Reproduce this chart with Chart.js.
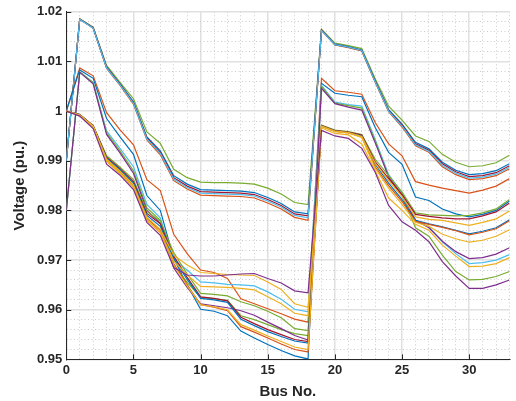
<!DOCTYPE html>
<html>
<head>
<meta charset="utf-8">
<script src="https://cdn.jsdelivr.net/npm/chart.js@4.4.0/dist/chart.umd.min.js"></script>
<style>
  html, body { margin: 0; padding: 0; background: #fff; }
  canvas { display: block; }
</style>
</head>
<body>
<canvas id="chart" width="516" height="401"></canvas>
<script>
// bus index along the x axis
const busNo = [0, 1, 2, 3, 4, 5, 6, 7, 8, 9, 10, 11, 12, 13, 14, 15, 16, 17, 18, 19, 20, 21, 22, 23, 24, 25, 26, 27, 28, 29, 30, 31, 32, 33];

// labelled ticks
const xTickLabels = [0, 5, 10, 15, 20, 25, 30];
const yTickLabels = [0.95, 0.96, 0.97, 0.98, 0.99, 1.00, 1.01, 1.02];

// voltage profiles (pu.), drawn in this order
const vLowPurple   = [1.000, 0.9990, 0.9965, 0.9893, 0.9871, 0.9842, 0.9776, 0.9750, 0.9685, 0.9670, 0.9668, 0.9668, 0.9670, 0.9672, 0.9673, 0.9663, 0.9654, 0.9638, 0.9634, 0.9961, 0.9950, 0.9945, 0.9925, 0.9877, 0.9810, 0.9777, 0.9760, 0.9737, 0.9697, 0.9668, 0.9643, 0.9643, 0.9650, 0.9660];
const vLowYellow3  = [1.000, 0.9991, 0.9968, 0.9898, 0.9874, 0.9846, 0.9780, 0.9755, 0.9690, 0.9648, 0.9610, 0.9606, 0.9600, 0.9570, 0.9559, 0.9547, 0.9536, 0.9525, 0.9520, 0.9966, 0.9955, 0.9952, 0.9934, 0.9880, 0.9825, 0.9800, 0.9772, 0.9760, 0.9730, 0.9708, 0.9687, 0.9688, 0.9693, 0.9705];
const vLowYellow2  = [1.000, 0.9992, 0.9969, 0.9900, 0.9876, 0.9847, 0.9781, 0.9756, 0.9698, 0.9670, 0.9647, 0.9646, 0.9645, 0.9643, 0.9640, 0.9626, 0.9612, 0.9593, 0.9588, 0.9969, 0.9959, 0.9956, 0.9947, 0.9885, 0.9845, 0.9812, 0.9776, 0.9768, 0.9752, 0.9743, 0.9736, 0.9740, 0.9748, 0.9761];
const vLowYellow1  = [1.000, 0.9992, 0.9970, 0.9903, 0.9879, 0.9851, 0.9786, 0.9762, 0.9710, 0.9690, 0.9675, 0.9673, 0.9671, 0.9670, 0.9669, 0.9656, 0.9641, 0.9612, 0.9605, 0.9970, 0.9960, 0.9957, 0.9949, 0.9895, 0.9860, 0.9828, 0.9787, 0.9782, 0.9780, 0.9775, 0.9770, 0.9776, 0.9783, 0.9799];
const vLowOrange   = [1.000, 0.9992, 0.9969, 0.9902, 0.9878, 0.9850, 0.9784, 0.9760, 0.9693, 0.9650, 0.9610, 0.9605, 0.9598, 0.9566, 0.9555, 0.9543, 0.9531, 0.9520, 0.9515, 0.9969, 0.9959, 0.9956, 0.9948, 0.9888, 0.9850, 0.9818, 0.9778, 0.9772, 0.9766, 0.9759, 0.9751, 0.9756, 0.9763, 0.9779];
const vLowBlue     = [1.000, 0.9993, 0.9970, 0.9905, 0.9882, 0.9855, 0.9790, 0.9768, 0.9703, 0.9661, 0.9623, 0.9620, 0.9615, 0.9581, 0.9568, 0.9556, 0.9546, 0.9537, 0.9533, 0.9970, 0.9960, 0.9957, 0.9950, 0.9893, 0.9855, 0.9822, 0.9780, 0.9773, 0.9767, 0.9760, 0.9753, 0.9758, 0.9765, 0.9781];
const vLowDarkRed  = [1.000, 0.9993, 0.9971, 0.9907, 0.9884, 0.9858, 0.9794, 0.9773, 0.9708, 0.9665, 0.9626, 0.9623, 0.9618, 0.9585, 0.9572, 0.9560, 0.9550, 0.9540, 0.9536, 0.9971, 0.9961, 0.9958, 0.9952, 0.9898, 0.9864, 0.9832, 0.9792, 0.9788, 0.9785, 0.9783, 0.9783, 0.9789, 0.9797, 0.9815];
const vLowGreen    = [1.000, 0.9993, 0.9971, 0.9910, 0.9887, 0.9862, 0.9798, 0.9778, 0.9715, 0.9672, 0.9633, 0.9631, 0.9628, 0.9616, 0.9608, 0.9597, 0.9584, 0.9562, 0.9558, 0.9972, 0.9962, 0.9959, 0.9953, 0.9903, 0.9870, 0.9837, 0.9795, 0.9791, 0.9790, 0.9789, 0.9790, 0.9795, 0.9803, 0.9822];

const vMidPurple   = [0.980, 1.0078, 1.0055, 0.9953, 0.9916, 0.9875, 0.9800, 0.9774, 0.9684, 0.9645, 0.9612, 0.9608, 0.9604, 0.9598, 0.9589, 0.9575, 0.9562, 0.9548, 0.9539, 1.0046, 1.0015, 1.0008, 1.0002, 0.9936, 0.9868, 0.9830, 0.9780, 0.9765, 0.9738, 0.9717, 0.9703, 0.9705, 0.9712, 0.9725];
const vMidGreen    = [0.980, 1.0079, 1.0057, 0.9956, 0.9920, 0.9880, 0.9805, 0.9780, 0.9690, 0.9655, 0.9625, 0.9622, 0.9619, 0.9588, 0.9580, 0.9570, 0.9560, 0.9552, 0.9548, 1.0050, 1.0016, 1.0011, 1.0006, 0.9940, 0.9868, 0.9830, 0.9765, 0.9748, 0.9710, 0.9677, 0.9660, 0.9661, 0.9667, 0.9677];
const vMidLightBlue= [0.980, 1.0079, 1.0058, 0.9960, 0.9925, 0.9888, 0.9812, 0.9785, 0.9700, 0.9680, 0.9656, 0.9654, 0.9651, 0.9650, 0.9648, 0.9636, 0.9621, 0.9601, 0.9596, 1.0052, 1.0018, 1.0013, 1.0010, 0.9943, 0.9872, 0.9835, 0.9780, 0.9767, 0.9737, 0.9713, 0.9693, 0.9695, 0.9700, 0.9711];
const vMidBlue     = [1.000, 1.0083, 1.0066, 0.9985, 0.9948, 0.9913, 0.9830, 0.9800, 0.9703, 0.9650, 0.9601, 0.9597, 0.9588, 0.9557, 0.9543, 0.9530, 0.9518, 0.9507, 0.9501, 1.0056, 1.0036, 1.0032, 1.0029, 0.9967, 0.9917, 0.9893, 0.9827, 0.9820, 0.9803, 0.9793, 0.9787, 0.9792, 0.9800, 0.9819];
const vMidOrange   = [1.000, 1.0087, 1.0071, 0.9997, 0.9962, 0.9932, 0.9862, 0.9840, 0.9752, 0.9713, 0.9680, 0.9675, 0.9663, 0.9622, 0.9612, 0.9602, 0.9592, 0.9581, 0.9575, 1.0066, 1.0041, 1.0038, 1.0034, 0.9977, 0.9934, 0.9910, 0.9858, 0.9851, 0.9845, 0.9840, 0.9835, 0.9841, 0.9849, 0.9864];

const vTopLightBlue= [0.990, 1.0185, 1.0167, 1.0087, 1.0053, 1.0016, 0.9944, 0.9915, 0.9863, 0.9846, 0.9835, 0.9834, 0.9833, 0.9832, 0.9829, 0.9819, 0.9807, 0.9790, 0.9785, 1.0162, 1.0134, 1.0129, 1.0122, 1.0059, 1.0000, 0.9970, 0.9932, 0.9919, 0.9891, 0.9875, 0.9865, 0.9867, 0.9873, 0.9887];
const vTopDarkRed  = [0.990, 1.0185, 1.0168, 1.0088, 1.0054, 1.0017, 0.9946, 0.9917, 0.9866, 0.9849, 0.9838, 0.9837, 0.9836, 0.9835, 0.9832, 0.9822, 0.9810, 0.9793, 0.9789, 1.0163, 1.0134, 1.0129, 1.0122, 1.0060, 1.0001, 0.9972, 0.9934, 0.9921, 0.9894, 0.9878, 0.9868, 0.9870, 0.9876, 0.9890];
const vTopBlue     = [0.990, 1.0185, 1.0168, 1.0089, 1.0055, 1.0019, 0.9948, 0.9920, 0.9870, 0.9853, 0.9842, 0.9841, 0.9840, 0.9839, 0.9836, 0.9826, 0.9814, 0.9797, 0.9793, 1.0163, 1.0135, 1.0130, 1.0123, 1.0061, 1.0003, 0.9974, 0.9937, 0.9924, 0.9897, 0.9881, 0.9872, 0.9874, 0.9880, 0.9894];
const vTopGreen    = [0.990, 1.0186, 1.0169, 1.0092, 1.0058, 1.0025, 0.9958, 0.9935, 0.9883, 0.9866, 0.9857, 0.9856, 0.9856, 0.9855, 0.9853, 0.9845, 0.9833, 0.9816, 0.9812, 1.0165, 1.0137, 1.0132, 1.0126, 1.0065, 1.0010, 0.9982, 0.9950, 0.9939, 0.9913, 0.9897, 0.9888, 0.9890, 0.9896, 0.9911];
const vTopOrange   = [0.990, 1.0186, 1.0167, 1.0086, 1.0052, 1.0014, 0.9942, 0.9912, 0.9860, 0.9843, 0.9831, 0.9830, 0.9829, 0.9828, 0.9825, 0.9815, 0.9803, 0.9786, 0.9780, 1.0163, 1.0133, 1.0128, 1.0121, 1.0058, 0.9999, 0.9968, 0.9930, 0.9917, 0.9888, 0.9872, 0.9862, 0.9864, 0.9870, 0.9884];

// MATLAB default line colours
const blue = '#0072BD', orange = '#D95319', yellow = '#EDB120', purple = '#7E2F8E',
      green = '#77AC30', lightBlue = '#4DBEEE', darkRed = '#A2142F';

const series = [
  [vLowPurple, purple], [vLowYellow3, yellow], [vLowYellow2, yellow], [vLowYellow1, yellow],
  [vLowOrange, orange], [vLowBlue, blue], [vLowDarkRed, darkRed], [vLowGreen, green],
  [vMidPurple, purple], [vMidGreen, green], [vMidLightBlue, lightBlue], [vMidBlue, blue], [vMidOrange, orange],
  [vTopLightBlue, lightBlue], [vTopDarkRed, darkRed], [vTopBlue, blue], [vTopGreen, green], [vTopOrange, orange]
];

const fontFamily = '"Liberation Sans", Arial, Helvetica, sans-serif';
const axisColor = '#262626';

function isMajorX(v) { return xTickLabels.includes(v); }
function isMajorY(v) { return Math.abs(v * 100 - Math.round(v * 100)) < 1e-6; }

// minor grid every bus and every 0.002 pu.
const xGridValues = busNo.slice();
const yGridValues = [];
for (let i = 0; i <= 35; i++) yGridValues.push(Math.round(950 + 2 * i) / 1000);

// MATLAB style ticks pointing into the axes
const inwardTicks = {
  id: 'inwardTicks',
  beforeDatasetsDraw(chart) {
    const { ctx, chartArea: a, scales: { x, y } } = chart;
    ctx.save();
    ctx.strokeStyle = axisColor;
    ctx.lineWidth = 1;
    ctx.beginPath();
    xTickLabels.forEach(v => {
      const px = Math.round(x.getPixelForValue(v)) + 0.5;
      ctx.moveTo(px, a.bottom);
      ctx.lineTo(px, a.bottom - 5);
    });
    yTickLabels.forEach(v => {
      const py = Math.round(y.getPixelForValue(v)) + 0.5;
      ctx.moveTo(a.left, py);
      ctx.lineTo(a.left + 5, py);
    });
    ctx.stroke();
    ctx.restore();
  }
};

const whiteBg = {
  id: 'whiteBg',
  beforeDraw(chart) {
    const ctx = chart.ctx;
    ctx.save();
    ctx.fillStyle = '#fff';
    ctx.fillRect(0, 0, chart.width, chart.height);
    ctx.restore();
  }
};

new Chart(document.getElementById('chart'), {
  type: 'line',
  data: {
    labels: busNo,
    datasets: series.map(([values, color]) => ({
      data: values,
      borderColor: color,
      backgroundColor: color,
      borderWidth: 1.2,
      pointRadius: 0,
      tension: 0,
      fill: false
    }))
  },
  options: {
    responsive: false,
    animation: false,
    layout: { padding: { left: 7, right: 6.5, top: 5, bottom: 0 } },
    plugins: {
      legend: { display: false },
      tooltip: { enabled: false }
    },
    scales: {
      x: {
        type: 'linear',
        min: 0,
        max: 33,
        afterBuildTicks: scale => { scale.ticks = xGridValues.map(v => ({ value: v })); },
        ticks: {
          autoSkip: false,
          maxRotation: 0,
          padding: 3,
          color: axisColor,
          font: { family: fontFamily, size: 13, weight: 'bold' },
          callback: v => isMajorX(v) ? String(v) : ''
        },
        grid: {
          drawTicks: false,
          color: c => (c.tick && isMajorX(c.tick.value)) ? '#e0e0e0' : '#cbcbcb',
          lineWidth: c => (c.tick && isMajorX(c.tick.value)) ? 1.5 : 1
        },
        border: {
          display: true,
          color: axisColor,
          width: 1,
          dash: c => (c.tick && !isMajorX(c.tick.value)) ? [1, 2.5] : []
        },
        title: {
          display: true,
          text: 'Bus No.',
          color: axisColor,
          font: { family: fontFamily, size: 15, weight: 'bold' },
          padding: { top: 2, bottom: 0 }
        }
      },
      y: {
        type: 'linear',
        min: 0.95,
        max: 1.02,
        afterBuildTicks: scale => { scale.ticks = yGridValues.map(v => ({ value: v })); },
        ticks: {
          autoSkip: false,
          padding: 4,
          color: axisColor,
          font: { family: fontFamily, size: 13, weight: 'bold' },
          callback: v => isMajorY(v) ? String(Number(v.toFixed(2))) : ''
        },
        grid: {
          drawTicks: false,
          color: c => (c.tick && isMajorY(c.tick.value)) ? '#e0e0e0' : '#cbcbcb',
          lineWidth: c => (c.tick && isMajorY(c.tick.value)) ? 1.5 : 1
        },
        border: {
          display: true,
          color: axisColor,
          width: 1,
          dash: c => (c.tick && !isMajorY(c.tick.value)) ? [1, 2.5] : []
        },
        title: {
          display: true,
          text: 'Voltage (pu.)',
          color: axisColor,
          font: { family: fontFamily, size: 15, weight: 'bold' },
          padding: { top: 4, bottom: 4 }
        }
      }
    }
  },
  plugins: [whiteBg, inwardTicks]
});
</script>
</body>
</html>
